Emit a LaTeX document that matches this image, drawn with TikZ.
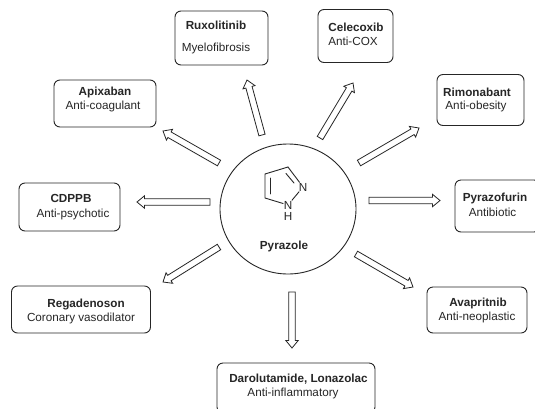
\documentclass[tikz,border=0pt]{standalone}
\usepackage{fontspec}
\setmainfont{Liberation Sans}
\usetikzlibrary{calc,shapes.geometric}
\definecolor{ink}{HTML}{262626}
\tikzset{
  card/.style={draw=ink,line width=0.9pt,rounded corners=6pt,inner sep=0pt},
  hd/.style={font=\fontsize{11.7}{13}\selectfont\bfseries,text=ink,inner sep=0pt},
  sb/.style={font=\fontsize{11.7}{13}\selectfont,text=ink,inner sep=0pt},
  arrowline/.style={draw=ink,line width=0.8pt,fill=white,line join=miter},
  bond/.style={draw=ink,line width=0.9pt,line cap=round},
  atom/.style={font=\fontsize{11.7}{13}\selectfont,text=ink,inner sep=0.5pt}
}
\newcommand{\blockarrow}[3]{%
  \coordinate (#3h) at ($(#2)!7.5pt!(#1)$);
  \path[arrowline] ($(#1)!3.2pt!90:(#2)$) -- ($(#3h)!3.2pt!90:(#2)$) -- ($(#3h)!6.2pt!90:(#2)$) -- (#2)
    -- ($(#3h)!6.2pt!-90:(#2)$) -- ($(#3h)!3.2pt!-90:(#2)$) -- ($(#1)!3.2pt!-90:(#2)$) -- cycle;}
\begin{document}
\begin{tikzpicture}[x=1pt,y=-1pt]
\useasboundingbox (0,0) rectangle (535,408);
\fill[white] (0,0) rectangle (535,408);
% boxes
\begin{scope}
\clip (0,0) rectangle (535,408);
\node[card,minimum width=93pt,minimum height=54pt] (rux) at (221.5,38) {};
\node[card,minimum width=102pt,minimum height=47pt] (api) at (105,103.5) {};
\node[card,minimum width=75pt,minimum height=53pt] (cel) at (355.5,36) {};
\node[card,minimum width=87pt,minimum height=51pt] (rim) at (480.5,100) {};
\node[card,minimum width=101pt,minimum height=48pt] (cdp) at (69.5,207) {};
\node[card,minimum width=85pt,minimum height=52pt] (pyf) at (497.5,206) {};
\node[card,minimum width=139pt,minimum height=47pt] (reg) at (81,309.5) {};
\node[card,minimum width=100pt,minimum height=46pt] (ava) at (477,310) {};
\node[card,minimum width=158pt,minimum height=50pt] (dar) at (296,388) {};
\end{scope}
% centre
\node[draw=ink,line width=0.9pt,ellipse,minimum width=136pt,minimum height=130pt,inner sep=0pt] (core) at (288,209) {};
% labels
\node[hd] (t1) at (216,25) {Ruxolitinib};
\node[sb] (s1) at (216,48) {Myelofibrosis};
\node[hd] (t2) at (105,92) {Apixaban};
\node[sb] (s2) at (103,106) {Anti-coagulant};
\node[hd] (t3) at (356,27) {Celecoxib};
\node[sb] (s3) at (353,41) {Anti-COX};
\node[hd] (t4) at (477,92) {Rimonabant};
\node[sb] (s4) at (476,106) {Anti-obesity};
\node[hd] (t5) at (71,198) {CDPPB};
\node[sb] (s5) at (73,214) {Anti-psychotic};
\node[hd] (t6) at (495,198) {Pyrazofurin};
\node[sb] (s6) at (492.5,212) {Antibiotic};
\node[hd] (t7) at (86,304) {Regadenoson};
\node[sb] (s7) at (81,318) {Coronary vasodilator};
\node[hd] (t8) at (478,303) {Avapritnib};
\node[sb] (s8) at (477,317) {Anti-neoplastic};
\node[hd] (t9) at (298.5,379) {Darolutamide, Lonazolac};
\node[sb] (s9) at (293,393) {Anti-inflammatory};
\node[hd] (t0) at (284,246) {Pyrazole};
% arrows
\coordinate (a1) at (262,135); \coordinate (b1) at (247,80);
\coordinate (a2) at (219,163); \coordinate (b2) at (163,131);
\coordinate (a3) at (320,138); \coordinate (b3) at (353,83);
\coordinate (a4) at (359,163); \coordinate (b4) at (419,128);
\coordinate (a5) at (369,200.5); \coordinate (b5) at (440,200.5);
\coordinate (a6) at (356,254); \coordinate (b6) at (413,287);
\coordinate (a7) at (292,292); \coordinate (b7) at (292,348);
\coordinate (a8) at (219,247); \coordinate (b8) at (163,282);
\coordinate (a9) at (210,202); \coordinate (b9) at (137,202);
\blockarrow{a1}{b1}{h1}
\blockarrow{a2}{b2}{h2}
\blockarrow{a3}{b3}{h3}
\blockarrow{a4}{b4}{h4}
\blockarrow{a5}{b5}{h5}
\blockarrow{a6}{b6}{h6}
\blockarrow{a7}{b7}{h7}
\blockarrow{a8}{b8}{h8}
\blockarrow{a9}{b9}{h9}
% pyrazole ring
\coordinate (c3) at (288,167);
\coordinate (c4) at (265,174);
\coordinate (c5) at (265,198);
\node[atom] (n2) at (303,187) {N};
\node[atom] (n1) at (288,205) {N};
\node[atom] (nh) at (288,216) {H};
\draw[bond] (c3) -- (c4) -- (c5) -- (n1);
\draw[bond] (n1) -- (n2);
\draw[bond] (c3) -- (n2);
\draw[bond] (270.5,178) -- (270.5,194);
\draw[bond] (286,173.5) -- (294,183);
\end{tikzpicture}
\end{document}
